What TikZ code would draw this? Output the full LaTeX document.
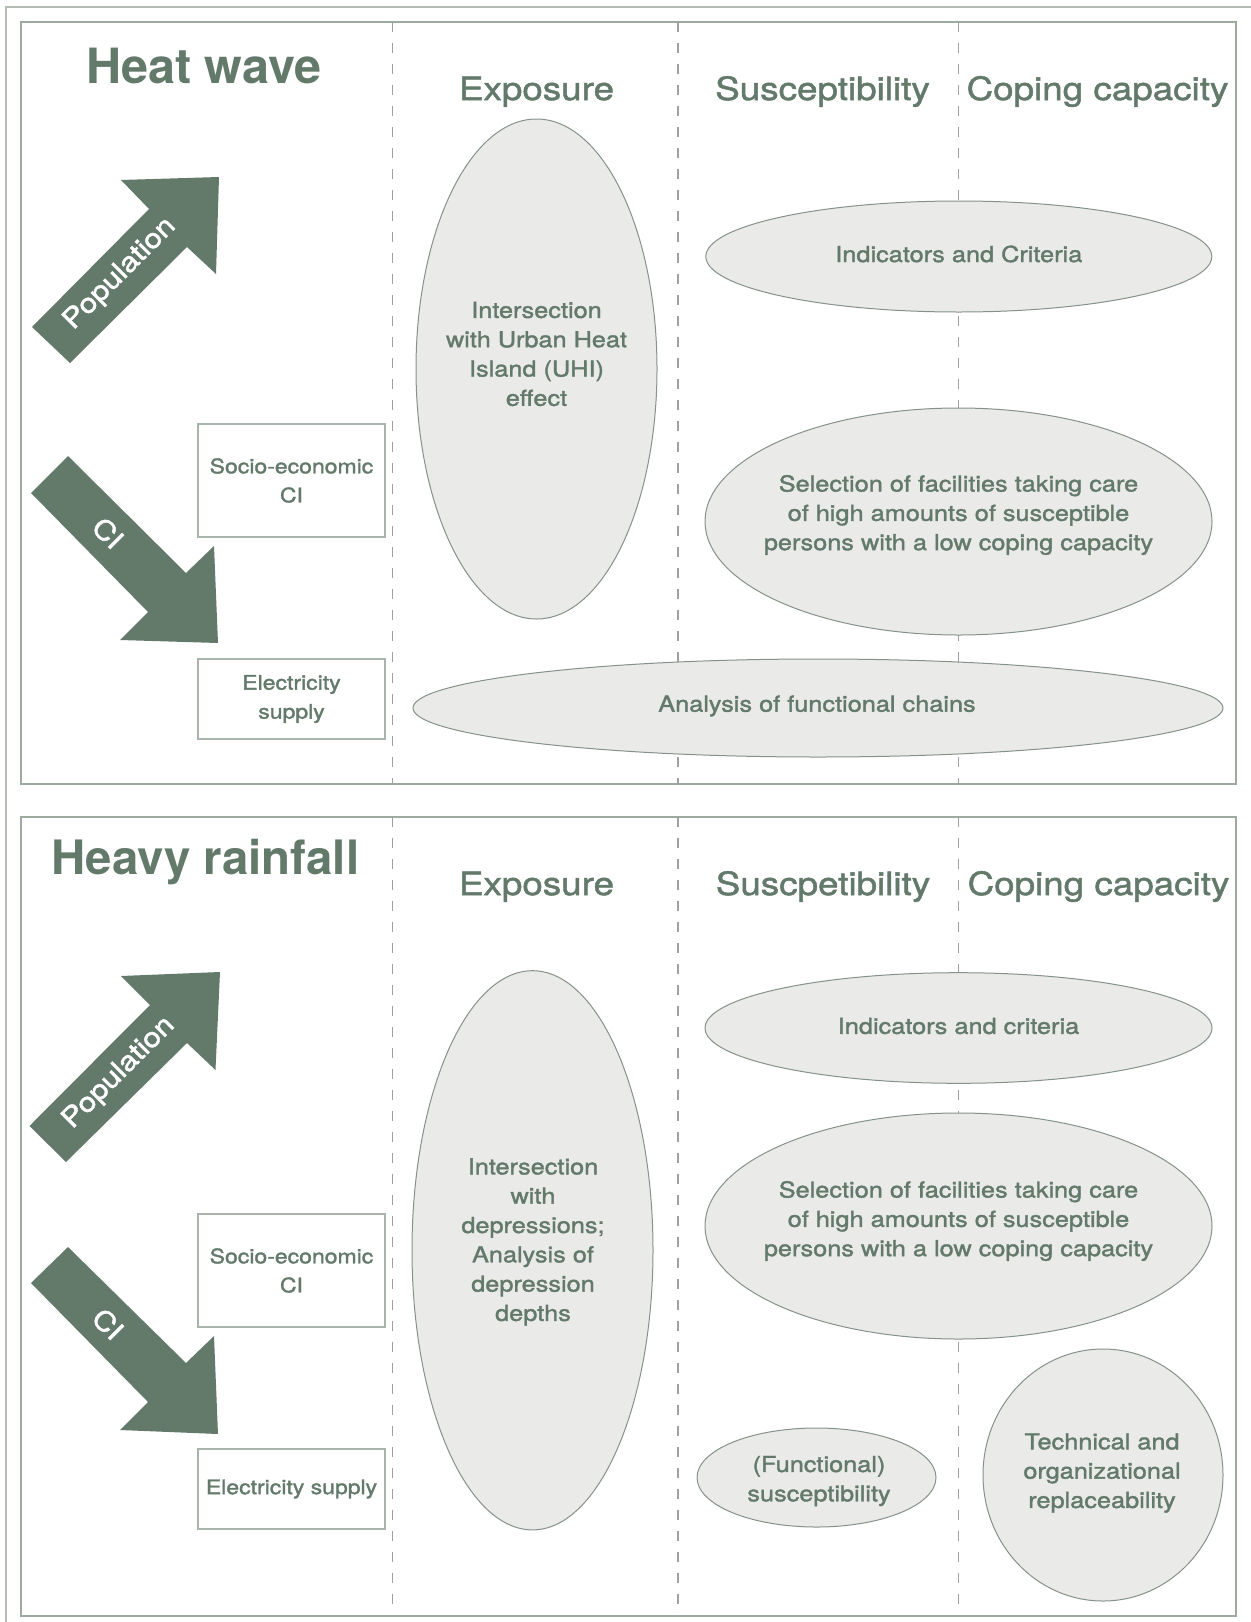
\documentclass[tikz,border=0pt]{standalone}
\usepackage{fontspec}
\setmainfont{TeX Gyre Heros}
\newfontfamily\hvs{TeX Gyre Heros}[FakeStretch=1.15,FakeBold=1.6]
\usetikzlibrary{shapes.geometric}
\definecolor{dgreen}{HTML}{637A6B}
\definecolor{ellfill}{HTML}{EAEAE8}
\definecolor{elldraw}{HTML}{86918A}
\definecolor{panelc}{HTML}{9DAAA0}
\definecolor{boxc}{HTML}{A9B5AC}
\definecolor{dashc}{HTML}{A0A0A0}
\definecolor{outerc}{HTML}{B3BDB5}
\tikzset{
  panel/.style={draw=panelc, line width=1pt},
  sep/.style={draw=dashc, line width=0.9pt, dash pattern=on 5pt off 5.5pt},
  ell/.style={ellipse, draw=elldraw, fill=ellfill, line width=0.5pt, inner sep=0pt},
  etxt/.style={text=dgreen, align=center, inner sep=0pt, font=\hvs\fontsize{11}{14.65}\selectfont},
  hdr/.style={text=dgreen, anchor=base, inner sep=0pt, font=\hvs\fontsize{16}{19}\selectfont},
  ttl/.style={text=dgreen, anchor=base, inner sep=0pt, font=\bfseries\fontsize{24.3}{28}\selectfont},
  cibox/.style={draw=boxc, line width=0.75pt, fill=white, minimum width=93.5pt, align=center, inner sep=0pt, text=dgreen, font=\hvs\fontsize{10}{14.5}\selectfont},
  bigarrow/.style={fill=dgreen, draw=none},
  atxt/.style={text=white, inner sep=0pt, font=\hvs\fontsize{13.5}{16}\selectfont}
}
\begin{document}
\begin{tikzpicture}[x=0.5pt,y=-0.5pt]
\useasboundingbox (0,0) rectangle (1251,1622);
% outer frame
\coordinate (otl) at (6,7);
\coordinate (obl) at (6,1622);
\coordinate (otr) at (1251,7);
\draw[draw=outerc, line width=0.75pt] (obl) -- (otl) -- (otr);

% ===== panel 1 =====
\node[panel, minimum width=607.5pt, minimum height=381pt, inner sep=0pt] (p1) at (628.5,403) {};
\coordinate (d1a) at (392.5,22); \coordinate (d1b) at (392.5,784);
\coordinate (d2a) at (678,22);   \coordinate (d2b) at (678,784);
\coordinate (d3a) at (958.5,22); \coordinate (d3b) at (958.5,784);
\draw[sep] (d1a) -- (d1b);
\draw[sep] (d2a) -- (d2b);
\draw[sep] (d3a) -- (d3b);

\node[ttl] (t1) at (204,83) {Heat wave};
\node[hdr] (h1e) at (536.5,100) {Exposure};
\node[hdr] (h1s) at (822.5,100) {Susceptibility};
\node[hdr] (h1c) at (1097.5,100) {Coping capacity};

\fill[bigarrow] (32,327) -- (149,209) -- (121,180) -- (219,177) -- (216,274) -- (187,247) -- (70,363) -- cycle;
\node[atxt, rotate=45] (pop1) at (120,274) {Population};
\fill[bigarrow] (68,456) -- (186,573) -- (214,546) -- (218,643) -- (120,640) -- (148,612) -- (31,493) -- cycle;
\node[atxt, rotate=-45] (ci1) at (108,533) {CI};

\node[cibox, minimum height=56.5pt] (se1) at (291.5,480.5) {Socio-economic\\CI};
\node[cibox, minimum height=40pt] (el1) at (291.5,699) {Electricity\\supply};

\node[ell, minimum width=120.5pt, minimum height=250pt] (e1exp) at (536.5,369) {};
\node[etxt] (e1expt) at (536.5,354) {Intersection\\with Urban Heat\\Island (UHI)\\effect};
\node[ell, minimum width=253pt, minimum height=55.5pt] (e1ind) at (958.8,256.5) {};
\node[etxt] (e1indt) at (958.8,254) {Indicators and Criteria};
\node[ell, minimum width=253.5pt, minimum height=113.5pt] (e1sel) at (958.5,521.5) {};
\node[etxt] (e1selt) at (958.5,515) {Selection of facilities taking care\\of high amounts of susceptible\\persons with a low coping capacity};
\node[ell, minimum width=405pt, minimum height=49pt] (e1ana) at (818,708) {};
\node[etxt] (e1anat) at (817,706) {Analysis of functional chains};

% ===== panel 2 =====
\node[panel, minimum width=607.5pt, minimum height=399.5pt, inner sep=0pt] (p2) at (628.5,1216) {};
\coordinate (d4a) at (392.5,816.5); \coordinate (d4b) at (392.5,1615.5);
\coordinate (d5a) at (678,816.5);   \coordinate (d5b) at (678,1615.5);
\coordinate (d6a) at (958.5,816.5); \coordinate (d6b) at (958.5,1615.5);
\draw[sep] (d4a) -- (d4b);
\draw[sep] (d5a) -- (d5b);
\draw[sep] (d6a) -- (d6b);

\node[ttl, font=\bfseries\fontsize{23.7}{28}\selectfont] (t2) at (205.5,874) {Heavy rainfall};
\node[hdr] (h2e) at (536.5,895) {Exposure};
\node[hdr] (h2s) at (823,895) {Suscpetibility};
\node[hdr] (h2c) at (1098.5,895) {Coping capacity};

\fill[bigarrow] (29.5,1126) -- (150,1005) -- (121,976) -- (220,972) -- (215.5,1070) -- (187,1043) -- (66,1162) -- cycle;
\node[atxt, rotate=45] (pop2) at (119,1073) {Population};
\fill[bigarrow] (68,1247) -- (186,1363) -- (214,1336) -- (218,1434) -- (120,1430) -- (148,1402) -- (31,1283) -- cycle;
\node[atxt, rotate=-45] (ci2) at (108,1324) {CI};

\node[cibox, minimum height=56.5pt] (se2) at (291.5,1270.5) {Socio-economic\\CI};
\node[cibox, minimum height=40pt] (el2) at (291.5,1489) {Electricity supply};

\node[ell, minimum width=120.5pt, minimum height=279.6pt] (e2exp) at (532.5,1250.3) {};
\node[etxt] (e2expt) at (533,1242) {Intersection\\with\\depressions;\\Analysis of\\depression\\depths};
\node[ell, minimum width=253.5pt, minimum height=55.3pt] (e2ind) at (958.5,1028) {};
\node[etxt] (e2indt) at (958.5,1026) {Indicators and criteria};
\node[ell, minimum width=253.5pt, minimum height=113pt] (e2sel) at (958.5,1226) {};
\node[etxt] (e2selt) at (958.5,1221) {Selection of facilities taking care\\of high amounts of susceptible\\persons with a low coping capacity};
\node[ell, minimum width=119.5pt, minimum height=49.5pt] (e2fun) at (816.5,1477.5) {};
\node[etxt] (e2funt) at (819,1481) {(Functional)\\susceptibility};
\node[ell, minimum width=120pt, minimum height=126pt] (e2tec) at (1103,1475) {};
\node[etxt] (e2tect) at (1102,1473) {Technical and\\organizational\\replaceability};
\end{tikzpicture}
\end{document}
